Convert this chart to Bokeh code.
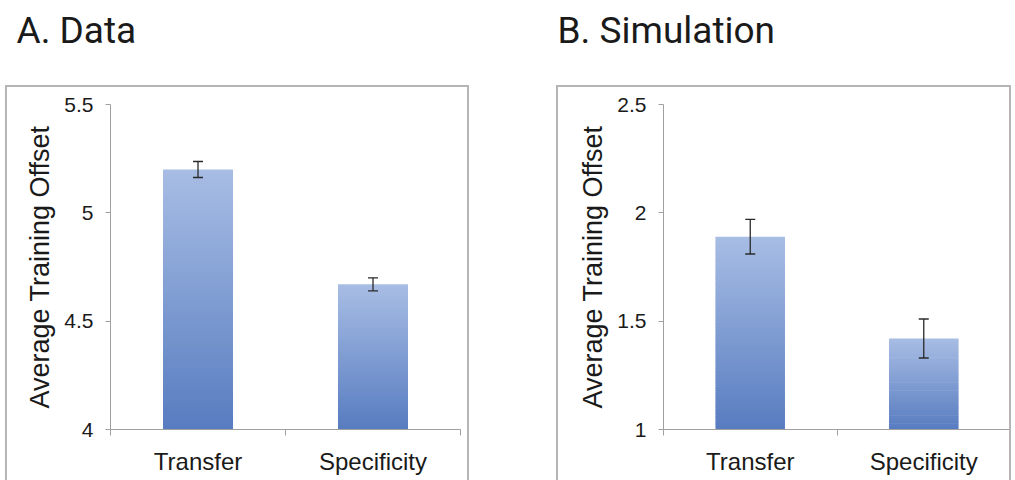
from bokeh.plotting import figure
from bokeh.models import (Range1d, FixedTicker, Whisker, TeeHead, ColumnDataSource,
                          InlineStyleSheet, Title)
from bokeh.layouts import row
from bokeh.embed import file_html
from bokeh.resources import INLINE

categories = ["Transfer", "Specificity"]
data_means = [5.20, 4.67]
data_errors = [0.037, 0.030]
sim_means = [1.89, 1.42]
sim_errors = [0.080, 0.090]
data_yticks = [4, 4.5, 5, 5.5]
data_ytick_labels = ["4", "4.5", "5", "5.5"]
sim_yticks = [1, 1.5, 2, 2.5]
sim_ytick_labels = ["1", "1.5", "2", "2.5"]
titles = ["A. Data", "B. Simulation"]
y_label = "Average Training Offset"

TOP_RGB = (167, 189, 228)
BOT_RGB = (88, 124, 192)
N_SLICES = 80
AXIS_GRAY = "#a0a0a0"
TEXT = "#1a1a1a"
FONT = "Liberation Sans"


def gradient_source(means, base):
    xs, bottoms, tops, colors = [], [], [], []
    for i, m in enumerate(means):
        for k in range(N_SLICES):
            f0 = k / N_SLICES
            f1 = min(1.0, (k + 1.6) / N_SLICES)  # slight overlap hides seams
            xs.append(i + 0.5)
            bottoms.append(base + (m - base) * f0)
            tops.append(base + (m - base) * f1)
            t = (k + 0.5) / N_SLICES
            c = tuple(int(round(BOT_RGB[j] + (TOP_RGB[j] - BOT_RGB[j]) * t)) for j in range(3))
            colors.append("#%02x%02x%02x" % c)
    return ColumnDataSource(dict(x=xs, bottom=bottoms, top=tops, color=colors))


def panel(title, means, errors, yticks, ytick_labels, width, mb_left, mb_right,
          title_offset, box_css):
    base = yticks[0]
    p = figure(width=width, height=480, output_backend="svg", toolbar_location=None,
               x_range=Range1d(0, len(categories)), y_range=Range1d(yticks[0], yticks[-1]),
               min_border_left=mb_left, min_border_right=mb_right,
               min_border_top=104, min_border_bottom=51)
    p.outline_line_color = None
    p.grid.visible = False
    p.background_fill_color = "white"
    p.border_fill_color = "white"

    # spacer between the frame and the panel title (blank)
    spacer = Title(text=" ", text_font_size="1px", standoff=46)
    p.add_layout(spacer, "above")
    t = Title(text=title, text_font="Roboto", text_font_size="37px",
              text_font_style="normal", text_color=TEXT, align="left",
              offset=title_offset, standoff=8)
    p.add_layout(t, "above")

    src = gradient_source(means, base)
    p.vbar(x="x", bottom="bottom", top="top", width=0.4, source=src,
           fill_color="color", line_color=None)

    esrc = ColumnDataSource(dict(
        x=[i + 0.5 for i in range(len(categories))],
        upper=[m + e for m, e in zip(means, errors)],
        lower=[m - e for m, e in zip(means, errors)]))
    w = Whisker(source=esrc, base="x", upper="upper", lower="lower",
                line_color="#2a2a2a", line_width=1.3, level="overlay",
                upper_head=TeeHead(size=10, line_color="#2a2a2a", line_width=1.3),
                lower_head=TeeHead(size=10, line_color="#2a2a2a", line_width=1.3))
    p.add_layout(w)

    # y axis
    ya = p.yaxis[0]
    ya.ticker = FixedTicker(ticks=yticks, minor_ticks=[])
    ya.major_label_overrides = {t: l for t, l in zip(yticks, ytick_labels)}
    ya.axis_line_color = AXIS_GRAY
    ya.major_tick_line_color = AXIS_GRAY
    ya.major_tick_out = 5
    ya.major_tick_in = 0
    ya.major_label_standoff = 12
    ya.major_label_text_font = FONT
    ya.major_label_text_font_size = "21px"
    ya.major_label_text_color = TEXT
    ya.axis_label = y_label
    ya.axis_label_text_font = FONT
    ya.axis_label_text_font_size = "27px"
    ya.axis_label_text_font_style = "normal"
    ya.axis_label_text_color = TEXT
    ya.axis_label_standoff = 6

    # x axis: labels at category centres, ticks at boundaries
    xa = p.xaxis[0]
    centers = [i + 0.5 for i in range(len(categories))]
    bounds = [i for i in range(len(categories) + 1)]
    xa.ticker = FixedTicker(ticks=centers, minor_ticks=bounds)
    xa.major_label_overrides = {c: n for c, n in zip(centers, categories)}
    xa.axis_line_color = AXIS_GRAY
    xa.major_tick_line_color = None
    xa.major_tick_out = 6
    xa.major_tick_in = 0
    xa.minor_tick_line_color = AXIS_GRAY
    xa.minor_tick_out = 6
    xa.minor_tick_in = 0
    xa.major_label_standoff = 12
    xa.major_label_text_font = FONT
    xa.major_label_text_font_size = "24px"
    xa.major_label_text_color = TEXT

    # panel frame (decoration only)
    p.stylesheets = [InlineStyleSheet(css=(
        ":host::after { content: ''; position: absolute; box-sizing: border-box; "
        "border: 2px solid #b5b5b5; pointer-events: none; z-index: 10; " + box_css + " }"))]
    return p


pa = panel(titles[0], data_means, data_errors, data_yticks, data_ytick_labels,
           width=554, mb_left=110, mb_right=94, title_offset=-94,
           box_css="left: 5px; top: 85px; width: 464px; bottom: -6px;")
pb = panel(titles[1], sim_means, sim_errors, sim_yticks, sim_ytick_labels,
           width=460, mb_left=109, mb_right=4, title_offset=-106,
           box_css="left: 2px; top: 85px; right: 3px; bottom: -6px;")

layout = row(pa, pb)
open("out.html", "w").write(file_html(layout, INLINE))
